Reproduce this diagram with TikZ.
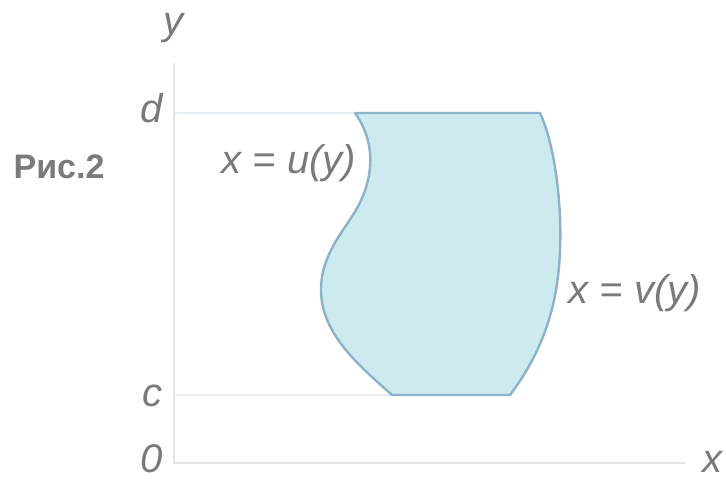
\documentclass[tikz,border=0pt]{standalone}
\usepackage{fontspec}
\setmainfont{Liberation Sans}
\usepackage{tikz}
\usetikzlibrary{positioning}
\definecolor{areafill}{HTML}{CDEBEF}
\definecolor{areaedge}{HTML}{8CB2CA}
\definecolor{axisgray}{HTML}{E3E5E7}
\definecolor{guidegray}{HTML}{E6ECF1}
\definecolor{labelgray}{HTML}{7A7A7A}
\tikzset{
  area/axis/.style={draw=axisgray, line width=1pt},
  area/guide/.style={draw=guidegray, line width=0.9pt},
  area/region/.style={fill=areafill, draw=areaedge, line width=1.2pt, line join=round},
  area/label/.style={text=labelgray, font=\fontsize{20}{24}\selectfont\itshape, inner sep=0pt, anchor=base},
  area/caption/.style={text=labelgray, font=\fontsize{17}{20}\selectfont\bfseries, inner sep=0pt, anchor=base}
}

\begin{document}
\begin{tikzpicture}[x=0.5pt, y=-0.5pt]
  \useasboundingbox (0,0) rectangle (726,478);

  % axes and levels
  \coordinate (O) at (174,463);
  \coordinate (ytop) at (174,63);
  \coordinate (xend) at (685,463);
  \coordinate (dlev) at (174,113);
  \coordinate (clev) at (174,395);

  % corners of the region
  \coordinate (tl) at (355,113);
  \coordinate (tr) at (540,113);
  \coordinate (br) at (510,395);
  \coordinate (bl) at (392,395);

  \draw[area/axis] (ytop) -- (O) -- (xend);
  \draw[area/guide] (dlev) -- (tl);
  \draw[area/guide] (clev) -- (bl);

  \filldraw[area/region] (tl) -- (tr)
    .. controls (555,145) and (562,205) .. (560,250)
    .. controls (558,310) and (540,355) .. (br)
    -- (bl)
    .. controls (362,368) and (321,335) .. (321,290)
    .. controls (321,255) and (343,232) .. (356,210)
    .. controls (370,186) and (380,148) .. (tl)
    -- cycle;

  \node[area/label] (ylab) at (173,34) {y};
  \node[area/label] (xlab) at (712,472) {x};
  \node[area/label] (dlab) at (152,122) {d};
  \node[area/label] (clab) at (152,406) {c};
  \node[area/label] (olab) at (152,472) {0};
  \node[area/label] (ulab) at (289,173) {x = u(y)};
  \node[area/label] (vlab) at (635,303) {x = v(y)};
  \node[area/caption] (fig) at (59,178) {Рис.2};
\end{tikzpicture}
\end{document}
